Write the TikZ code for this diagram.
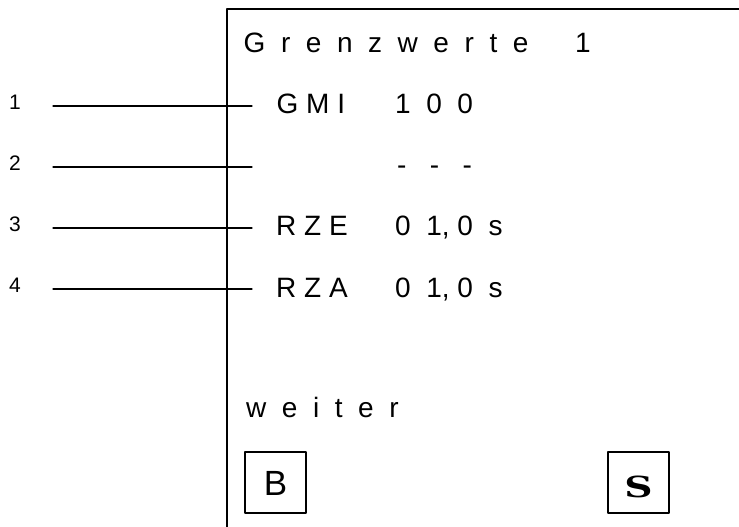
\documentclass[tikz,border=0pt]{standalone}
\usepackage{fontspec}
\setmainfont{Liberation Sans}
\newfontfamily\keyserif{DejaVu Serif}
\begin{document}
\begin{tikzpicture}[x=1pt, y=-1pt, line join=round, line cap=round,
	font=\fontsize{28}{32}\selectfont,
	txt/.style={anchor=base west, inner sep=0pt},
	num/.style={font=\fontsize{21}{24}\selectfont, inner sep=0pt},
	key/.style={draw, line width=1.3pt, minimum size=61pt, inner sep=0pt, text depth=0pt},
	lead/.style={line width=1.1pt}]
	\useasboundingbox (0,0) rectangle (739,527);
	% display frame
	\draw[line width=1.8pt, line cap=butt] (227,527) |- (739,9);
	% leader lines with numbers
	\foreach \i/\y in {1/106,2/167,3/228,4/289}{
		\node[num] (n\i) at (15,{\y-4}) {\i};
		\coordinate (a\i) at (53,\y);
		\coordinate (b\i) at (252,\y);
		\draw[lead] (a\i) -- (b\i);
	}
	% display text
	\node[txt] (title) at (243.5,53) {G\ \ r\ \ e\ \ n\ \ z\ \ w\ \ e\ \ r\ \ t\ \ e\ \ \ \ \ \ 1};
	\node[txt] (gmi) at (276.5,113) {G M I};
	\node[txt] (gmival) at (395,113) {1\ \ 0\ \ 0};
	\node[txt] (dash) at (397,174) {-\ \ \ -\ \ \ -};
	\node[txt] (rze) at (276,235) {R Z E};
	\node[txt] (rzeval) at (395,235) {0\ \ 1,\ 0\ \ s};
	\node[txt] (rza) at (276,297) {R Z A};
	\node[txt] (rzaval) at (395,297) {0\ \ 1,\ 0\ \ s};
	\node[txt] (weiter) at (246,417) {w\ \ e\ \ i\ \ t\ \ e\ \ r};
	% keys
	\node[key, text height=25pt, font=\fontsize{35}{40}\selectfont] (back) at (275.5,482.5) {B};
	\node[key, text height=30pt, font=\fontsize{29}{34}\selectfont\keyserif\bfseries] (save) at (638.5,482.5) {\scalebox{1.35}[1]{S}};
\end{tikzpicture}
\end{document}
